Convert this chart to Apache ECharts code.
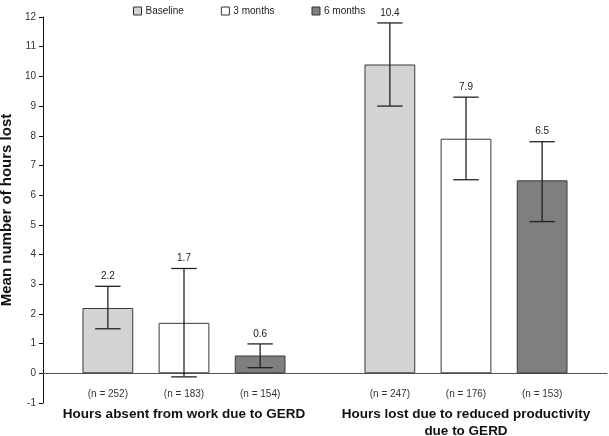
<!DOCTYPE html>
<html>
<head>
<meta charset="utf-8">
<script src="https://cdn.jsdelivr.net/npm/echarts@6/dist/echarts.min.js"></script>
<style>
  html, body { margin: 0; padding: 0; background: #fff; }
  #chart { width: 609px; height: 436px; }
</style>
</head>
<body>
<div id="chart"></div>
<script>
const categories = ["Hours absent from work due to GERD", "Hours lost due to reduced productivity\ndue to GERD"]
const seriesNames = ["Baseline", "3 months", "6 months"]
const seriesColors = ["#d3d3d3", "#ffffff", "#7f7f7f"]

// means, error bar low/high, sample sizes (one array per time point)
const baselineMean = [2.2, 10.4]
const baselineLow = [1.5, 9.0]
const baselineHigh = [2.93, 11.8]
const baselineN = [252, 247]

const month3Mean = [1.7, 7.9]
const month3Low = [-0.12, 6.52]
const month3High = [3.53, 9.3]
const month3N = [183, 176]

const month6Mean = [0.6, 6.5]
const month6Low = [0.19, 5.11]
const month6High = [0.99, 7.8]
const month6N = [154, 153]

const yTicks = { min: -1, max: 12, interval: 1 }

const groups = [
  { mean: baselineMean, low: baselineLow, high: baselineHigh, n: baselineN },
  { mean: month3Mean, low: month3Low, high: month3High, n: month3N },
  { mean: month6Mean, low: month6Low, high: month6High, n: month6N },
]

const BAR_RATIO = 0.18 // bar width as share of the category band
const GAP_RATIO = 0.5

const chart = echarts.init(document.getElementById("chart"))

const barSeries = groups.map((g, k) => ({
  name: seriesNames[k],
  type: "bar",
  barWidth: BAR_RATIO * 100 + "%",
  barGap: GAP_RATIO * 100 + "%",
  itemStyle: { color: seriesColors[k], borderColor: "#3a3a3a", borderWidth: 1 },
  label: {
    show: true,
    position: "bottom",
    distance: 16,
    fontFamily: "Liberation Sans, Arial, sans-serif",
    fontSize: 10,
    color: "#333",
    formatter: (p) => "(n = " + g.n[p.dataIndex] + ")",
  },
  emphasis: { disabled: true },
  data: g.mean,
  z: 2,
}))

const errorSeries = groups.map((g, k) => ({
  name: seriesNames[k],
  type: "custom",
  z: 5,
  silent: true,
  data: g.mean.map((m, i) => [i, g.low[i], g.high[i], m]),
  encode: { x: 0, y: [1, 2] },
  renderItem: (params, api) => {
    const band = api.size([1, 0])[0]
    const bw = band * BAR_RATIO
    const offset = (k - 1) * bw * (1 + GAP_RATIO)
    const lowPt = api.coord([api.value(0), api.value(1)])
    const highPt = api.coord([api.value(0), api.value(2)])
    const x = lowPt[0] + offset
    const cap = bw / 4
    const style = { stroke: "#222", lineWidth: 1.3 }
    return {
      type: "group",
      children: [
        { type: "line", shape: { x1: x, y1: lowPt[1], x2: x, y2: highPt[1] }, style },
        { type: "line", shape: { x1: x - cap, y1: highPt[1], x2: x + cap, y2: highPt[1] }, style },
        { type: "line", shape: { x1: x - cap, y1: lowPt[1], x2: x + cap, y2: lowPt[1] }, style },
        {
          type: "text",
          x: x,
          y: highPt[1] - 5,
          style: {
            text: api.value(3).toFixed(1),
            fill: "#222",
            font: "10px Liberation Sans, Arial, sans-serif",
            textAlign: "center",
            textVerticalAlign: "bottom",
          },
        },
      ],
    }
  },
}))

const option = {
  animation: false,
  backgroundColor: "#fff",
  textStyle: { fontFamily: "Liberation Sans, Arial, sans-serif" },
  legend: {
    data: seriesNames.map((n, k) => ({ name: n, itemStyle: { color: seriesColors[k], borderColor: "#333", borderWidth: 1 } })),
    left: 128,
    top: 1,
    itemWidth: 8,
    itemHeight: 8,
    itemGap: 37,
    icon: "rect",
    textStyle: { fontSize: 10, color: "#222", padding: [0, 0, 0, -1] },
    selectedMode: false,
  },
  grid: { left: 43, right: 2, top: 17, bottom: 33, containLabel: false, outerBoundsMode: "none" },
  xAxis: {
    type: "category",
    data: categories,
    axisLine: { onZero: true, lineStyle: { color: "#555", width: 1 } },
    axisTick: { show: false },
    axisLabel: {
      interval: 0,
      margin: 3,
      fontSize: 13.5,
      fontWeight: "bold",
      lineHeight: 17,
      color: "#111",
    },
  },
  yAxis: {
    type: "value",
    min: yTicks.min,
    max: yTicks.max,
    interval: yTicks.interval,
    name: "Mean number of hours lost",
    nameLocation: "middle",
    nameGap: 29,
    nameTextStyle: { fontSize: 15, fontWeight: "bold", color: "#111" },
    axisLine: { show: true, lineStyle: { color: "#111", width: 1 } },
    axisTick: { show: true, length: 4, lineStyle: { color: "#111" } },
    axisLabel: { fontSize: 10, color: "#333", margin: 7 },
    splitLine: { show: false },
  },
  series: [...barSeries, ...errorSeries],
}

chart.setOption(option)
</script>
</body>
</html>
